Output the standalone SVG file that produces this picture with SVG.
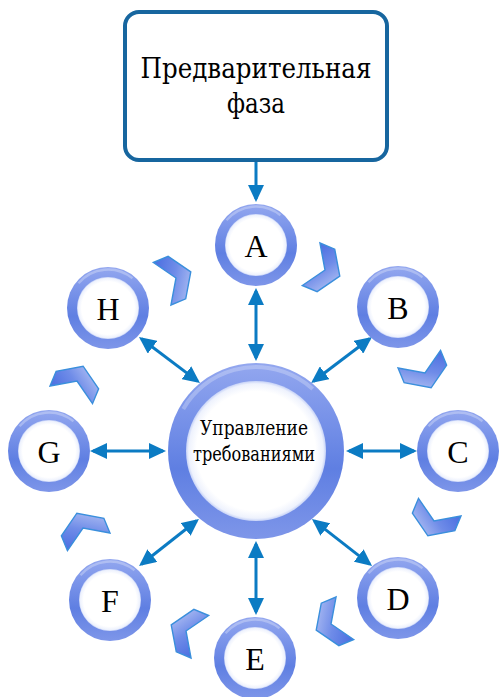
<svg xmlns="http://www.w3.org/2000/svg" xmlns:xlink="http://www.w3.org/1999/xlink" width="500" height="697" viewBox="0 0 500 697">
  <style>
    .lbl { font-family: "Liberation Serif", "DejaVu Serif", serif; fill: #000; text-anchor: middle; }
    .cyr { font-family: "DejaVu Serif", "Liberation Serif", serif; }
    .node-letter { font-size: 32px; }
    .title { font-size: 27px; }
    .hub { font-size: 19.5px; }
    .conn { stroke: #0b7bc3; stroke-width: 3; fill: none; }
    .chev { fill: url(#chevFill); stroke: #3a8fdc; stroke-width: 1.4; stroke-linejoin: miter; }
  </style>
  <defs>
    <linearGradient id="ringFill" x1="0" y1="0" x2="0" y2="1">
      <stop offset="0" stop-color="#93a7ef"/>
      <stop offset="0.35" stop-color="#7590e8"/>
      <stop offset="0.6" stop-color="#5f7fe2"/>
      <stop offset="1" stop-color="#7e96e9"/>
    </linearGradient>
    <radialGradient id="innerGlow" cx="0.5" cy="0.5" r="0.5">
      <stop offset="0.85" stop-color="#ffffff"/>
      <stop offset="0.96" stop-color="#eef2fd"/>
      <stop offset="1" stop-color="#c6d2f7"/>
    </radialGradient>
    <linearGradient id="chevFill" x1="0" y1="0" x2="1" y2="1">
      <stop offset="0" stop-color="#4a6de0"/>
      <stop offset="0.45" stop-color="#6f8ce8"/>
      <stop offset="1" stop-color="#c2cdf6"/>
    </linearGradient>
    <marker id="head" viewBox="0 0 17 16" markerUnits="userSpaceOnUse" markerWidth="17" markerHeight="16" refX="14" refY="8" orient="auto-start-reverse">
      <path d="M0,0 L17,8 L0,16 z" fill="#0b7bc3"/>
    </marker>
    <!-- small glossy ring -->
    <g id="ringS">
      <circle r="41" fill="url(#ringFill)"/>
      <circle r="38.5" fill="none" stroke="#ffffff" stroke-opacity="0.28" stroke-width="2.5" stroke-dasharray="60 182" transform="rotate(-140)"/>
      <circle r="31" fill="url(#innerGlow)"/>
    </g>
    <!-- large glossy ring -->
    <g id="ringL">
      <circle r="88" fill="url(#ringFill)"/>
      <circle r="84" fill="none" stroke="#ffffff" stroke-opacity="0.25" stroke-width="4" stroke-dasharray="150 378" transform="rotate(-150)"/>
      <circle r="70" fill="url(#innerGlow)"/>
    </g>
    <!-- chevron pointing along +x -->
    <path id="chevron" d="M-15,-23 L1,-23 L16,0 L1,23 L-15,23 L0,0 z"/>
  </defs>

  <!-- connectors -->
  <g id="connectors">
    <line class="conn" x1="256" y1="162" x2="256" y2="199" marker-end="url(#head)"/>
    <line class="conn" x1="256" y1="358" x2="256" y2="291" marker-start="url(#head)" marker-end="url(#head)"/>
    <line class="conn" x1="256" y1="544" x2="256" y2="612" marker-start="url(#head)" marker-end="url(#head)"/>
    <line class="conn" x1="349" y1="451" x2="414" y2="451" marker-start="url(#head)" marker-end="url(#head)"/>
    <line class="conn" x1="163" y1="451" x2="93" y2="451" marker-start="url(#head)" marker-end="url(#head)"/>
    <line class="conn" x1="313.5" y1="381.2" x2="369.6" y2="338.8" marker-start="url(#head)" marker-end="url(#head)"/>
    <line class="conn" x1="197.6" y1="381.1" x2="141.4" y2="338.8" marker-start="url(#head)" marker-end="url(#head)"/>
    <line class="conn" x1="314.3" y1="520.9" x2="369.7" y2="564.1" marker-start="url(#head)" marker-end="url(#head)"/>
    <line class="conn" x1="196.6" y1="520.8" x2="141.4" y2="564.2" marker-start="url(#head)" marker-end="url(#head)"/>
  </g>

  <!-- cycle chevrons -->
  <g id="chevrons">
    <use xlink:href="#chevron" class="chev" transform="translate(325,270) rotate(22.5)"/>
    <use xlink:href="#chevron" class="chev" transform="translate(425,373) rotate(67.5)"/>
    <use xlink:href="#chevron" class="chev" transform="translate(434,521) rotate(112.5)"/>
    <use xlink:href="#chevron" class="chev" transform="translate(331,624) rotate(157.5)"/>
    <use xlink:href="#chevron" class="chev" transform="translate(186,631) rotate(202.5)"/>
    <use xlink:href="#chevron" class="chev" transform="translate(83,528) rotate(247.5)"/>
    <use xlink:href="#chevron" class="chev" transform="translate(77,381) rotate(292.5)"/>
    <use xlink:href="#chevron" class="chev" transform="translate(176,278) rotate(337.5)"/>
  </g>

  <!-- preliminary phase box -->
  <g id="phase">
    <rect x="125" y="12" width="262" height="148" rx="14" fill="#ffffff" stroke="#17669f" stroke-width="4"/>
    <text class="lbl cyr title" x="256" y="78" textLength="231" lengthAdjust="spacingAndGlyphs">Предварительная</text>
    <text class="lbl cyr title" x="256" y="113" textLength="58" lengthAdjust="spacingAndGlyphs">фаза</text>
  </g>

  <!-- hub -->
  <g id="hub">
    <use xlink:href="#ringL" x="256" y="451"/>
    <text class="lbl cyr hub" x="254" y="435" textLength="108" lengthAdjust="spacingAndGlyphs">Управление</text>
    <text class="lbl cyr hub" x="254" y="461" textLength="122" lengthAdjust="spacingAndGlyphs">требованиями</text>
  </g>

  <!-- stages -->
  <g id="node-A"><use xlink:href="#ringS" x="256" y="245"/><text class="lbl node-letter" x="256" y="257">A</text></g>
  <g id="node-B"><use xlink:href="#ringS" x="398" y="307"/><text class="lbl node-letter" x="398" y="319">B</text></g>
  <g id="node-C"><use xlink:href="#ringS" x="458" y="451"/><text class="lbl node-letter" x="458" y="463">C</text></g>
  <g id="node-D"><use xlink:href="#ringS" x="398" y="598"/><text class="lbl node-letter" x="398" y="610">D</text></g>
  <g id="node-E"><use xlink:href="#ringS" x="255" y="658"/><text class="lbl node-letter" x="255" y="670">E</text></g>
  <g id="node-F"><use xlink:href="#ringS" x="110" y="600"/><text class="lbl node-letter" x="110" y="612">F</text></g>
  <g id="node-G"><use xlink:href="#ringS" x="49" y="451"/><text class="lbl node-letter" x="49" y="463">G</text></g>
  <g id="node-H"><use xlink:href="#ringS" x="108" y="308"/><text class="lbl node-letter" x="108" y="320">H</text></g>
</svg>
